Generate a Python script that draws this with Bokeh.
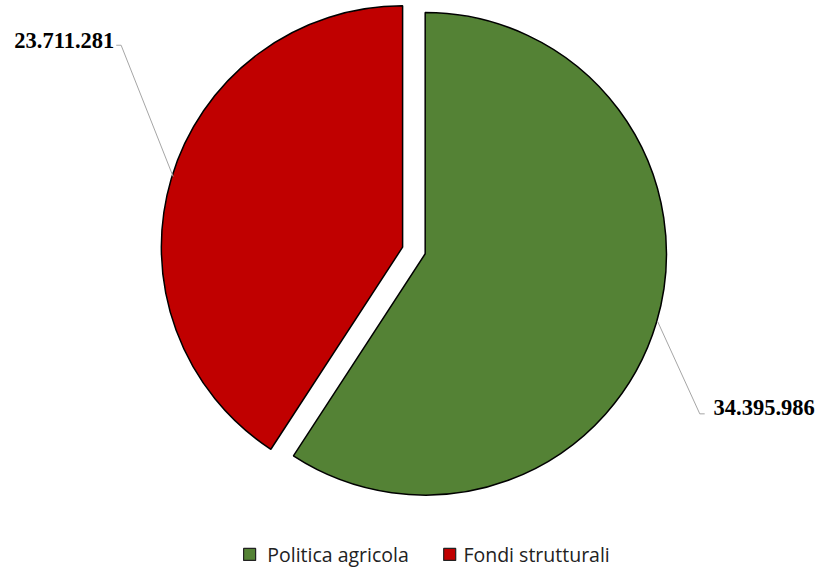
import math
from bokeh.plotting import figure
from bokeh.models import Range1d, ColumnDataSource
from bokeh.core.properties import value
from bokeh.embed import file_html
from bokeh.resources import INLINE

# ---- data ----
categories = ["Politica agricola", "Fondi strutturali"]
values = [34395986, 23711281]
value_labels = ["34.395.986", "23.711.281"]
colors = ["#548235", "#C00000"]

# ---- layout (reference-frame coordinates, 832 x 584) ----
W, H = 816, 568
RW, RH = 832, 584
CX, CY = 421.5, 257.0   # pie centre
R = 246.0
EXPLODE = 12.0

def Y(py):
    return RH - py

p = figure(width=W, height=H, output_backend="svg", toolbar_location=None,
           x_range=Range1d(0, RW), y_range=Range1d(0, RH),
           min_border=0, outline_line_color=None)
p.axis.visible = False
p.grid.visible = False
p.background_fill_color = "white"
p.border_fill_color = "white"

total = float(sum(values))
start = math.pi / 2
xs, ys, sa, ea = [], [], [], []
for v in values:
    sweep = 2 * math.pi * v / total
    end = start - sweep
    mid = (start + end) / 2
    xs.append(CX + EXPLODE * math.cos(mid))
    ys.append(Y(CY) + EXPLODE * math.sin(mid))
    sa.append(end)
    ea.append(start)
    start = end

src = ColumnDataSource(dict(x=xs, y=ys, start=sa, end=ea, color=colors, cat=categories))
p.wedge(x="x", y="y", radius=R, start_angle="start", end_angle="end",
        fill_color="color", line_color="black", line_width=1.5, source=src)

# leader lines
p.line(x=[670, 713, 718], y=[Y(330), Y(425), Y(425)], line_color="#A6A6A6", line_width=1)
p.line(x=[176, 123, 118], y=[Y(181), Y(46), Y(46)], line_color="#A6A6A6", line_width=1)

# value labels
lab = ColumnDataSource(dict(x=[727, 116], y=[Y(418), Y(41)], t=value_labels,
                            align=["left", "right"]))
p.text(x="x", y="y", text="t", text_align="align", text_baseline="middle",
       text_font=value("Liberation Serif"), text_font_style="bold", text_font_size="22.5px",
       text_color="black", source=lab)

# legend
leg_x = [254, 458]
leg_tx = [272, 472]
p.rect(x=leg_x, y=[Y(569.5)] * 2, width=12, height=12, width_units="screen",
       height_units="screen", fill_color=colors, line_color="#222222", line_width=1.2)
p.text(x=leg_tx, y=[Y(569.5)] * 2, text=categories, text_baseline="middle",
       text_font=value("Open Sans"), text_font_size="19.5px", text_color="#222222")

open("out.html", "w").write(file_html(p, INLINE))
